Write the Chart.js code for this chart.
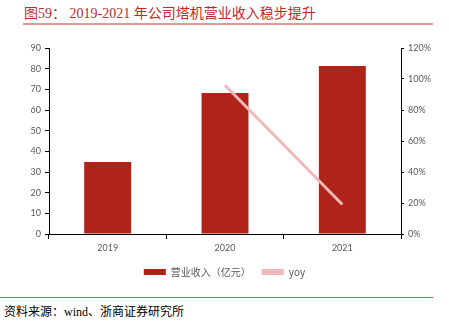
<!DOCTYPE html>
<html>
<head>
<meta charset="utf-8">
<script src="https://cdn.jsdelivr.net/npm/chart.js@4.4.0/dist/chart.umd.min.js"></script>
<style>
  html, body { margin: 0; padding: 0; background: #fff; }
  body { width: 449px; height: 326px; position: relative; overflow: hidden; }
  #title { position: absolute; left: 24px; top: 2px; font: 14px "Liberation Serif", "Noto Sans CJK SC", serif; color: #c0282d; white-space: nowrap; }
  #titleRule { position: absolute; left: 23px; top: 23px; width: 410px; height: 2px; background: #e8959a; }
  #wrap { position: absolute; left: 0; top: 30px; width: 449px; height: 257px; }
  #footRule { position: absolute; left: 0; top: 297px; width: 433px; height: 1px; background: #d9534f; }
  #foot { position: absolute; left: 4px; top: 302px; font: 12px "Liberation Serif", "Noto Sans CJK SC", serif; color: #000; white-space: nowrap; }
</style>
</head>
<body>
<div id="title">图59： 2019-2021 年公司塔机营业收入稳步提升</div>
<div id="titleRule"></div>
<div id="wrap"><canvas id="chart"></canvas></div>
<div id="footRule"></div>
<div id="foot">资料来源：wind、浙商证券研究所</div>
<script>
const years = ["2019", "2020", "2021"];
const revenue = [34.8, 68.2, 81.3];
const yoy = [null, 96, 19];
const revenueLabel = "营业收入（亿元）";
const yoyLabel = "yoy";

const tickFont = { family: "Lato, 'Liberation Sans', sans-serif", size: 9 };
const gray = "#595959";

new Chart(document.getElementById("chart"), {
  type: "bar",
  data: {
    labels: years,
    datasets: [
      { type: "line", label: yoyLabel, data: yoy, yAxisID: "y2", borderColor: "#f0b9b9", backgroundColor: "#f0b9b9",
        borderWidth: 3, pointRadius: 0, tension: 0, order: 0 },
      { label: revenueLabel, data: revenue, yAxisID: "y", backgroundColor: "#b02318",
        categoryPercentage: 1, barPercentage: 0.4, order: 1 }
    ]
  },
  options: {
    responsive: true, maintainAspectRatio: false, animation: false,
    layout: { padding: { top: 18, bottom: 0 } },
    plugins: {
      tooltip: { enabled: false },
      legend: {
        position: "bottom",
        labels: {
          color: gray, font: { family: "'Noto Sans CJK SC', sans-serif", size: 10 },
          boxWidth: 22, boxHeight: 6, padding: 11,
          // bar series first, then the yoy line
          generateLabels(chart) {
            return chart.data.datasets.map((d, i) => ({
              text: d.label, fillStyle: d.backgroundColor, strokeStyle: d.backgroundColor,
              lineWidth: 0, hidden: false, datasetIndex: i, fontColor: gray
            })).reverse();
          }
        }
      }
    },
    scales: {
      x: {
        grid: { display: true, drawOnChartArea: false, tickLength: 5, color: "#000" },
        border: { color: "#000", width: 1 },
        ticks: { color: gray, font: tickFont, padding: 4 },
        afterFit(s) { s.height = 22; }
      },
      y: {
        position: "left", min: 0, max: 90,
        grid: { display: true, drawOnChartArea: false, tickLength: 4, color: "#000" },
        border: { color: "#000", width: 1 },
        ticks: { stepSize: 10, color: gray, font: tickFont, padding: 4 },
        afterFit(s) { s.width = 49; }
      },
      y2: {
        position: "right", min: 0, max: 120,
        grid: { display: true, drawOnChartArea: false, tickLength: 3, color: "#000" },
        border: { color: "#000", width: 1 },
        ticks: { stepSize: 20, color: gray, font: tickFont, padding: 4, callback: v => v + "%" },
        afterFit(s) { s.width = 48; }
      }
    }
  }
});
</script>
</body>
</html>
